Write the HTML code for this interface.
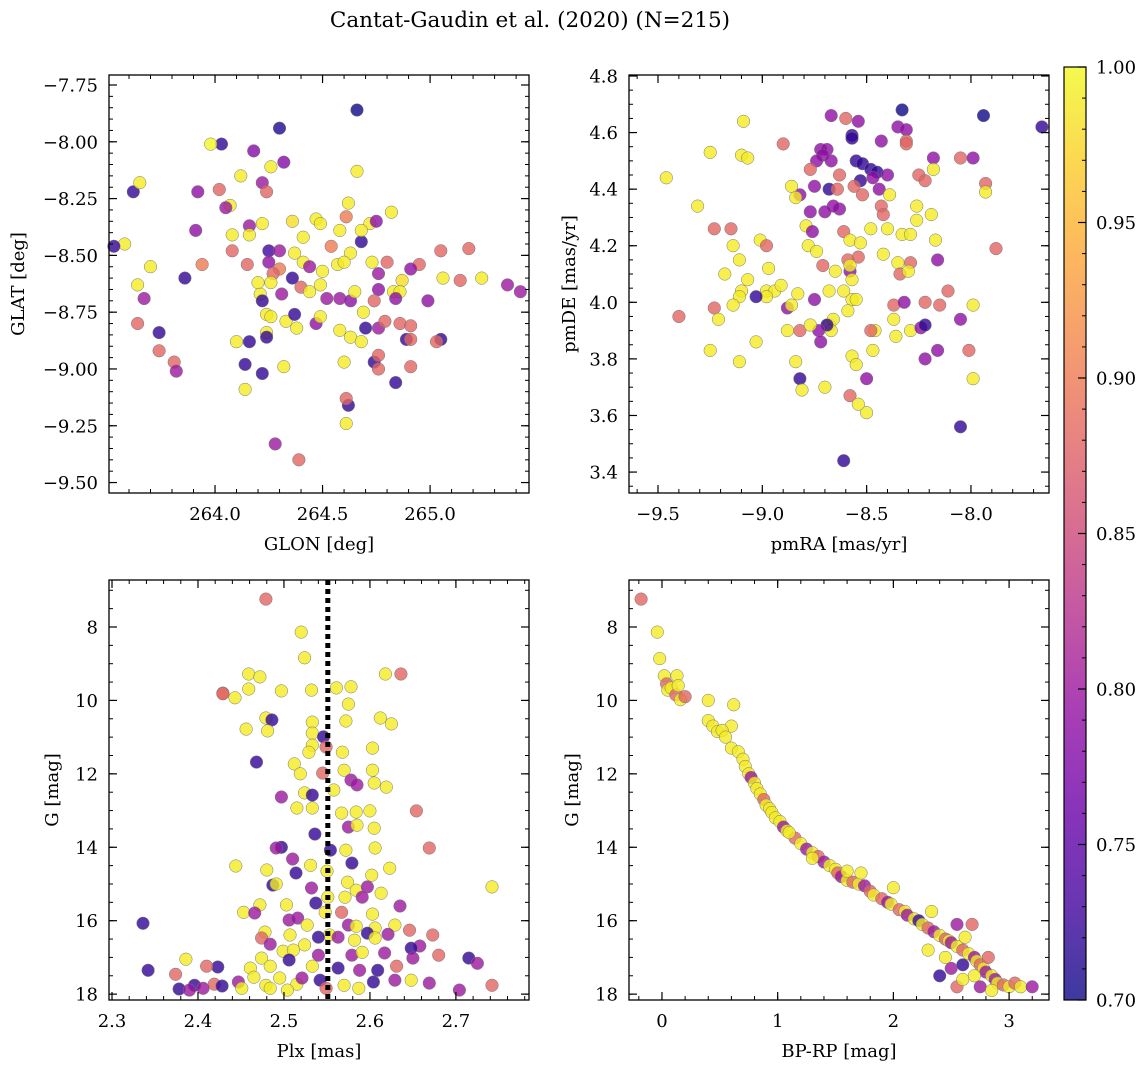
<!DOCTYPE html>
<html><head><meta charset="utf-8"><style>
body{margin:0;background:#fff}
svg{display:block;font-family:"DejaVu Serif","Liberation Serif",serif}
</style></head><body>
<svg id="fig" width="1148" height="1067" viewBox="0 0 1148 1067" xmlns="http://www.w3.org/2000/svg">
<text x="530" y="27" font-size="21.5" text-anchor="middle">Cantat-Gaudin et al. (2020) (N=215)</text>
</svg>
<script>
// ---------- DATA ----------
const glon=[264.66,264.30,264.03,263.98,264.18,264.02,264.32,264.26,264.66,263.62,263.65,263.92,264.12,264.22,264.24,264.07,264.05,264.62,264.61,264.82,264.72,264.75,264.36,264.22,264.16,264.16,264.08,263.91,264.47,264.49,264.41,264.58,264.68,264.54,264.68,263.70,263.94,263.58,263.53,264.08,264.25,264.30,264.37,264.25,264.15,264.41,264.44,264.50,264.57,264.63,264.60,264.73,264.80,264.76,265.05,264.95,264.91,264.87,265.06,265.14,264.76,264.83,264.86,263.86,264.30,264.36,264.27,264.26,264.21,264.20,264.31,264.22,264.40,264.44,264.49,264.52,264.58,264.63,264.65,264.69,264.74,264.84,264.99,263.67,263.64,264.24,264.26,264.33,264.37,264.38,264.47,264.49,264.58,264.63,264.68,264.70,264.76,264.79,264.86,264.91,264.24,264.24,264.16,264.10,263.74,263.74,263.64,263.81,263.82,264.14,264.32,264.60,264.74,264.76,264.76,264.91,264.84,264.89,264.91,265.05,265.03,264.22,264.14,264.62,264.61,264.61,264.28,264.39,265.36,265.42,265.18,265.24];
const glat=[-7.86,-7.94,-8.01,-8.01,-8.04,-8.21,-8.09,-8.11,-8.13,-8.22,-8.18,-8.22,-8.15,-8.18,-8.22,-8.28,-8.29,-8.27,-8.33,-8.31,-8.36,-8.35,-8.35,-8.36,-8.37,-8.41,-8.41,-8.39,-8.34,-8.36,-8.42,-8.39,-8.44,-8.46,-8.39,-8.55,-8.54,-8.45,-8.46,-8.48,-8.48,-8.48,-8.49,-8.53,-8.54,-8.53,-8.55,-8.57,-8.54,-8.49,-8.53,-8.53,-8.53,-8.58,-8.48,-8.54,-8.56,-8.61,-8.60,-8.61,-8.65,-8.66,-8.66,-8.60,-8.56,-8.60,-8.58,-8.62,-8.67,-8.62,-8.67,-8.70,-8.64,-8.66,-8.63,-8.69,-8.69,-8.70,-8.66,-8.75,-8.70,-8.69,-8.70,-8.69,-8.63,-8.76,-8.77,-8.79,-8.76,-8.82,-8.80,-8.77,-8.83,-8.86,-8.88,-8.82,-8.82,-8.79,-8.80,-8.81,-8.84,-8.86,-8.88,-8.88,-8.84,-8.92,-8.80,-8.97,-9.01,-8.98,-8.99,-8.97,-8.97,-8.94,-9.00,-8.99,-9.06,-8.87,-8.87,-8.87,-8.88,-9.02,-9.09,-9.16,-9.13,-9.24,-9.33,-9.40,-8.63,-8.66,-8.47,-8.60];
const prob1=[.70,.71,.72,1,.78,.88,.78,.99,.99,.72,.99,.79,.99,.8,.88,.99,.8,.99,.9,.99,.99,.79,.98,.99,.8,.99,.99,.79,.99,.99,.99,.99,.72,.9,.99,.99,.9,.99,.72,.88,.73,.8,.99,.79,.88,.99,.8,.99,.99,.99,.99,.99,.88,.8,.88,.88,.79,.98,.99,.88,.79,.99,.99,.72,.9,.72,.88,.99,.99,.99,.8,.72,.88,.99,.99,.8,.8,.79,.99,.99,.88,.79,.79,.8,.99,.99,.99,.99,.72,.99,.79,.99,.99,.99,.99,.72,.8,.88,.88,.88,.99,.72,.72,.99,.72,.88,.88,.88,.8,.72,.99,.99,.72,.88,.88,.88,.72,.72,.88,.72,.88,.72,.99,.72,.88,.99,.8,.88,.8,.8,.88,.99];

const pmra=[-7.94,-7.66,-8.33,-8.67,-8.60,-8.54,-9.09,-8.35,-8.31,-8.43,-8.57,-8.57,-8.31,-8.90,-8.72,-8.69,-8.31,-9.25,-9.10,-9.07,-7.99,-8.05,-8.18,-7.93,-7.93,-8.71,-8.74,-8.67,-8.55,-8.52,-8.48,-8.45,-8.53,-8.47,-8.40,-8.63,-8.77,-8.75,-8.68,-8.64,-8.56,-8.44,-8.25,-8.22,-8.18,-8.39,-8.52,-8.43,-8.42,-8.63,-8.66,-8.70,-8.77,-8.82,-8.86,-8.84,-8.79,-8.78,-8.76,-8.61,-8.58,-8.53,-8.48,-8.40,-8.33,-8.29,-8.26,-8.26,-8.19,-8.17,-8.16,-8.35,-8.29,-8.34,-8.30,-8.42,-8.54,-8.59,-8.58,-8.57,-8.57,-8.59,-8.55,-8.58,-8.61,-8.71,-8.65,-8.74,-8.68,-8.75,-8.68,-8.66,-8.67,-8.69,-8.82,-8.73,-8.72,-8.88,-8.83,-8.77,-8.98,-8.94,-8.97,-9.01,-8.98,-9.14,-9.15,-9.11,-9.10,-9.07,-9.11,-8.98,-8.91,-9.03,-8.88,-8.86,-9.23,-9.21,-9.14,-9.40,-9.31,-9.46,-9.23,-8.84,-8.82,-8.81,-8.70,-8.57,-8.55,-8.58,-8.50,-8.50,-8.54,-8.46,-8.47,-8.36,-8.37,-8.29,-8.24,-8.37,-8.32,-8.22,-8.15,-8.11,-8.05,-7.99,-8.22,-8.48,-8.16,-8.01,-7.99,-8.61,-8.05,-7.88,-9.25,-9.11,-9.03,-9.18,-8.22];
const pmde=[4.66,4.62,4.68,4.66,4.65,4.64,4.64,4.62,4.61,4.57,4.59,4.58,4.57,4.56,4.54,4.54,4.56,4.53,4.52,4.51,4.51,4.51,4.51,4.42,4.39,4.52,4.50,4.50,4.50,4.49,4.47,4.46,4.43,4.44,4.45,4.45,4.47,4.41,4.40,4.40,4.41,4.40,4.45,4.43,4.47,4.38,4.38,4.34,4.31,4.33,4.34,4.32,4.32,4.38,4.41,4.37,4.27,4.20,4.25,4.25,4.22,4.21,4.26,4.26,4.24,4.24,4.29,4.34,4.31,4.22,4.15,4.14,4.14,4.10,4.11,4.17,4.16,4.15,4.11,4.08,4.01,3.97,4.01,4.13,4.04,4.13,4.11,4.18,4.04,4.01,3.92,3.94,3.90,3.92,3.90,3.90,3.86,3.90,4.03,3.92,4.04,4.04,4.12,4.22,4.20,4.20,4.26,4.15,4.04,4.08,4.02,4.02,4.06,4.02,3.98,3.99,3.98,3.94,3.99,3.95,4.34,4.44,4.26,3.79,3.73,3.69,3.70,3.81,3.78,3.67,3.73,3.61,3.64,3.90,3.83,3.88,3.94,3.90,3.91,3.99,4.00,4.00,3.99,4.04,3.94,3.99,3.80,3.90,3.83,3.83,3.73,3.44,3.56,4.19,3.83,3.79,3.86,4.10,3.92];
const prob2=[.70,.72,.70,.79,.88,.79,.99,.79,.79,.79,.72,.72,.88,.88,.79,.79,.88,.99,.99,.99,.79,.88,.79,.88,.99,.79,.79,.79,.72,.72,.72,.72,.72,.79,.79,.88,.88,.79,.72,.88,.88,.79,.88,.88,.99,.99,.88,.88,.88,.79,.79,.79,.79,.79,.99,.99,.99,.99,.79,.88,.99,.99,.99,.99,.99,.99,.99,.99,.99,.99,.79,.99,.88,.88,.99,.99,.88,.88,.79,.99,.99,.99,.99,.99,.99,.88,.99,.99,.99,.79,.99,.99,.99,.72,.88,.79,.79,.99,.99,.99,.99,.99,.99,.99,.88,.99,.88,.99,.99,.99,.99,.99,.99,.72,.79,.99,.88,.99,.99,.88,.99,.99,.88,.99,.72,.99,.99,.99,.99,.88,.79,.99,.99,.99,.99,.99,.99,.99,.79,.88,.79,.88,.88,.88,.79,.99,.79,.88,.79,.88,.99,.72,.72,.88,.99,.99,.99,.99,.72];

const plx=[2.479,2.520,2.524,2.459,2.472,2.459,2.429,2.497,2.443,2.561,2.578,2.575,2.618,2.636,2.532,2.479,2.486,2.456,2.481,2.533,2.533,2.546,2.572,2.612,2.625,2.549,2.533,2.529,2.568,2.603,2.468,2.512,2.519,2.570,2.603,2.545,2.578,2.585,2.605,2.619,2.524,2.497,2.533,2.558,2.567,2.584,2.600,2.654,2.515,2.533,2.575,2.585,2.605,2.536,2.497,2.491,2.554,2.572,2.606,2.669,2.510,2.514,2.531,2.550,2.579,2.444,2.480,2.602,2.623,2.487,2.491,2.532,2.574,2.584,2.597,2.742,2.472,2.503,2.537,2.551,2.571,2.591,2.613,2.548,2.567,2.603,2.635,2.453,2.466,2.506,2.516,2.527,2.575,2.584,2.606,2.597,2.629,2.336,2.478,2.474,2.507,2.524,2.484,2.553,2.540,2.563,2.582,2.606,2.621,2.646,2.673,2.658,2.648,2.499,2.511,2.540,2.579,2.591,2.617,2.650,2.680,2.715,2.725,2.386,2.474,2.506,2.423,2.461,2.484,2.533,2.563,2.588,2.609,2.631,2.410,2.342,2.374,2.396,2.419,2.428,2.447,2.465,2.479,2.495,2.515,2.521,2.542,2.570,2.604,2.629,2.648,2.669,2.704,2.742,2.378,2.390,2.406,2.451,2.484,2.504,2.549,2.587,2.429];
const gmag1=[7.24,8.14,8.84,9.28,9.36,9.69,9.80,9.74,9.93,9.66,9.63,10.10,9.28,9.28,9.72,10.48,10.53,10.78,10.83,10.59,10.89,10.99,10.56,10.48,10.64,11.27,11.22,11.41,11.41,11.30,11.68,11.73,12.00,11.90,11.90,11.98,12.17,12.30,12.25,12.36,12.52,12.63,12.58,12.44,13.07,13.04,13.01,13.01,12.93,12.93,13.45,13.40,13.48,13.64,14.00,14.02,14.08,14.08,14.02,14.02,14.32,14.70,14.49,14.65,14.43,14.51,14.62,14.76,14.57,15.03,15.00,15.11,14.95,15.17,15.08,15.08,15.57,15.57,15.52,15.36,15.36,15.36,15.25,15.77,15.77,15.82,15.60,15.77,15.79,15.98,15.93,16.12,16.12,16.15,16.20,16.34,16.12,16.07,16.31,16.47,16.39,16.66,16.64,16.39,16.45,16.45,16.53,16.47,16.37,16.26,16.39,16.69,16.75,16.83,16.80,16.94,16.94,16.86,16.88,17.02,16.94,17.02,17.16,17.05,17.02,17.07,17.26,17.29,17.24,17.24,17.29,17.35,17.35,17.24,17.24,17.35,17.46,17.76,17.73,17.78,17.67,17.54,17.76,17.56,17.73,17.56,17.62,17.76,17.67,17.62,17.62,17.70,17.89,17.76,17.86,17.89,17.84,17.84,17.84,17.89,17.84,17.84,9.82];
const prob3=[.88,.99,.99,.99,.99,.99,.9,.99,.99,.99,.99,.99,.99,.88,.99,.99,.72,.99,.99,.99,.99,.72,.99,.99,.99,.88,.99,.99,.99,.99,.72,.99,.99,.99,.99,.88,.8,.8,.99,.99,.99,.8,.72,.99,.99,.99,.99,.88,.99,.99,.8,.99,.99,.72,.72,.8,.72,.99,.99,.88,.8,.72,.99,.99,.72,.99,.99,.99,.99,.72,.99,.8,.99,.99,.8,.99,.99,.99,.72,.99,.99,.8,.99,.99,.88,.99,.8,.99,.8,.8,.8,.99,.8,.99,.99,.72,.99,.72,.99,.88,.99,.99,.8,.99,.72,.8,.99,.99,.8,.88,.88,.8,.72,.99,.99,.8,.8,.99,.8,.8,.88,.72,.8,.99,.99,.72,.72,.99,.99,.99,.72,.8,.72,.88,.88,.72,.88,.72,.88,.72,.8,.99,.99,.99,.99,.8,.72,.99,.72,.8,.99,.8,.8,.88,.72,.8,.8,.99,.99,.99,.88,.99,.88];

const bprp=[-0.18,-0.04,-0.02,0.02,0.04,0.05,0.08,0.12,0.13,0.14,0.16,0.4,0.62,0.6,0.4,0.44,0.48,0.52,0.55,0.6,0.66,0.7,0.72,0.75,0.77,0.8,0.82,0.85,0.88,0.9,0.93,0.95,0.98,1.02,1.05,1.08,1.15,1.2,1.25,1.3,1.35,1.4,1.45,1.5,1.52,1.55,1.6,1.65,1.7,1.72,1.75,1.8,1.83,1.9,1.95,2.0,1.98,2.05,2.1,2.12,2.18,2.22,2.25,2.3,2.33,2.35,2.4,2.45,2.48,2.5,2.55,2.55,2.6,2.62,2.65,2.68,2.7,2.72,2.75,2.78,2.8,2.82,2.85,2.88,2.9,2.95,3.0,3.05,3.1,3.2,2.4,2.5,2.55,2.6,2.7,2.75,2.85,2.45,2.6,2.3,1.6,1.3,1.1,0.2];
const gmag2=[7.24,8.14,8.86,9.33,9.55,9.72,9.66,9.85,9.33,9.6,9.98,10.0,10.12,10.7,10.55,10.7,10.85,10.82,11.0,11.3,11.4,11.6,11.8,12.0,12.1,12.25,12.4,12.55,12.7,12.85,12.95,13.05,13.2,13.3,13.45,13.55,13.75,13.9,14.05,14.15,14.25,14.4,14.5,14.6,14.7,14.8,14.9,14.95,15.0,14.7,15.05,15.2,15.3,15.4,15.5,15.1,15.55,15.7,15.75,15.85,15.95,16.0,16.1,16.2,15.75,16.3,16.4,16.5,16.55,16.6,16.7,16.1,16.8,16.45,16.9,16.1,17.0,17.1,17.2,17.3,17.4,17.0,17.5,17.6,17.7,17.75,17.8,17.7,17.8,17.8,17.5,17.3,17.8,17.6,17.5,17.8,17.9,17.0,17.2,16.8,14.65,14.3,13.6,9.9];
const prob4=[.88,.99,.99,.99,.88,.99,.99,.88,.99,.99,.99,.99,.99,.99,.99,.99,.99,.99,.99,.99,.99,.99,.99,.99,.8,.99,.99,.99,.88,.99,.99,.99,.99,.99,.8,.99,.88,.99,.8,.99,.88,.8,.99,.99,.88,.8,.99,.88,.99,.99,.8,.88,.99,.88,.8,.99,.99,.88,.99,.8,.99,.72,.99,.88,.99,.8,.99,.88,.99,.8,.99,.8,.88,.99,.99,.88,.8,.99,.88,.99,.8,.88,.99,.8,.99,.88,.99,.88,.99,.8,.72,.8,.88,.99,.99,.8,.99,.99,.72,.99,.99,.99,.99,.88];

const cbTicks=[0.70,0.75,0.80,0.85,0.90,0.95,1.00];
const plxMean=[2.551];

// ---------- helpers ----------
const NS="http://www.w3.org/2000/svg";
const svg=document.getElementById('fig');
function mk(tag,attrs,parent){const e=document.createElementNS(NS,tag);for(const k in attrs)e.setAttribute(k,attrs[k]);(parent||svg).appendChild(e);return e;}
const stops=[[0,13,8,135],[.1,65,4,157],[.2,106,0,168],[.3,143,13,164],[.4,177,42,144],[.5,204,71,120],[.6,225,100,98],[.7,242,132,75],[.8,252,166,54],[.9,252,206,37],[1,240,249,33]];
function plasma(t){t=Math.max(0,Math.min(1,t));for(let i=1;i<stops.length;i++){if(t<=stops[i][0]){const a=stops[i-1],b=stops[i],f=(t-a[0])/(b[0]-a[0]);return `rgb(${Math.round(a[1]+f*(b[1]-a[1]))},${Math.round(a[2]+f*(b[2]-a[2]))},${Math.round(a[3]+f*(b[3]-a[3]))})`;}}return 'rgb(240,249,33)';}
const pcol=p=>plasma((p-0.7)/0.3);
const FS=18;

function panel(o){
  const {x0,y0,w,h,xmin,xmax,ymin,ymax,yinv,name}=o;
  const g=mk('g',{});
  
  
  const sx=v=>x0+(v-xmin)/(xmax-xmin)*w;
  const sy=v=>yinv? y0+(v-ymin)/(ymax-ymin)*h : y0+h-(v-ymin)/(ymax-ymin)*h;
  const pg=mk('g',{},g);
  for(let i=0;i<o.xs.length;i++){
    const c=mk('circle',{cx:sx(o.xs[i]).toFixed(1),cy:sy(o.ys[i]).toFixed(1),r:6.3,fill:pcol(o.ps[i]),'fill-opacity':0.8,stroke:'#777','stroke-width':0.5},pg);
    
    
  }
  if(o.vline){for(const v of o.vline){const l=mk('line',{x1:sx(v),x2:sx(v),y1:y0,y2:y0+h,stroke:'#000','stroke-width':5,'stroke-dasharray':'5,4'},g);
    
    }}
  mk('rect',{x:x0,y:y0,width:w,height:h,fill:'none',stroke:'#000','stroke-width':1.3},g);
  const eps=1e-9;
  function ticks(min,max,step){const out=[];let s=Math.ceil((min-eps)/step);for(let v=s*step;v<=max+eps;v=(++s)*step)out.push(Math.round(v*1e6)/1e6);return out;}
  for(const v of ticks(xmin,xmax,o.xminor)){const X=sx(v);mk('line',{x1:X,x2:X,y1:y0+h,y2:y0+h-4,stroke:'#000'},g);mk('line',{x1:X,x2:X,y1:y0,y2:y0+4,stroke:'#000'},g);}
  for(const v of ticks(ymin,ymax,o.yminor)){const Y=sy(v);mk('line',{x1:x0,x2:x0+4,y1:Y,y2:Y,stroke:'#000'},g);mk('line',{x1:x0+w,x2:x0+w-4,y1:Y,y2:Y,stroke:'#000'},g);}
  for(const v of ticks(xmin,xmax,o.xmajor)){const X=sx(v);mk('line',{x1:X,x2:X,y1:y0+h,y2:y0+h-8,stroke:'#000','stroke-width':1.2},g);mk('line',{x1:X,x2:X,y1:y0,y2:y0+8,stroke:'#000','stroke-width':1.2},g);
    const t=mk('text',{x:X,y:y0+h+27,'font-size':FS,'text-anchor':'middle'},g);t.textContent=o.xfmt(v);
    
    }
  for(const v of ticks(ymin,ymax,o.ymajor)){const Y=sy(v);mk('line',{x1:x0,x2:x0+8,y1:Y,y2:Y,stroke:'#000','stroke-width':1.2},g);mk('line',{x1:x0+w,x2:x0+w-8,y1:Y,y2:Y,stroke:'#000','stroke-width':1.2},g);
    const t=mk('text',{x:x0-11,y:Y+6.5,'font-size':FS,'text-anchor':'end'},g);t.textContent=o.yfmt(v);
    
    }
  const xl=mk('text',{x:x0+w/2,y:y0+h+57,'font-size':FS,'text-anchor':'middle'},g);xl.textContent=o.xlabel;
  
  
  const yx=o.ylx, yc=y0+h/2;
  const yl=mk('text',{x:yx,y:yc,'font-size':FS,'text-anchor':'middle',transform:`rotate(-90 ${yx} ${yc})`},g);yl.textContent=o.ylabel;
  
  
}
const neg=s=>s.replace('-','\u2212');
panel({name:'glon-glat-panel',x0:109,y0:75,w:420,h:418,xmin:263.507,xmax:265.46,ymin:-9.546,ymax:-7.706,xs:glon,ys:glat,ps:prob1,xmajor:0.5,xminor:0.1,ymajor:0.25,yminor:0.05,xfmt:v=>v.toFixed(1),yfmt:v=>neg(v.toFixed(2)),xlabel:'GLON [deg]',ylabel:'GLAT [deg]',ylx:24});
panel({name:'proper-motion-panel',x0:629,y0:75,w:420,h:418,xmin:-9.639,xmax:-7.626,ymin:3.326,ymax:4.8035,xs:pmra,ys:pmde,ps:prob2,xmajor:0.5,xminor:0.1,ymajor:0.2,yminor:0.05,xfmt:v=>neg(v.toFixed(1)),yfmt:v=>v.toFixed(1),xlabel:'pmRA [mas/yr]',ylabel:'pmDE [mas/yr]',ylx:575});
panel({name:'parallax-magnitude-panel',x0:109,y0:580,w:420,h:420,xmin:2.2965,xmax:2.785,ymin:6.72,ymax:18.16,yinv:true,xs:plx,ys:gmag1,ps:prob3,xmajor:0.1,xminor:0.02,ymajor:2,yminor:0.5,xfmt:v=>v.toFixed(1),yfmt:v=>String(v),xlabel:'Plx [mas]',ylabel:'G [mag]',ylx:58,vline:plxMean});
panel({name:'color-magnitude-panel',x0:629,y0:580,w:420,h:420,xmin:-0.285,xmax:3.345,ymin:6.72,ymax:18.16,yinv:true,xs:bprp,ys:gmag2,ps:prob4,xmajor:1,xminor:0.2,ymajor:2,yminor:0.5,xfmt:v=>String(v),yfmt:v=>String(v),xlabel:'BP-RP [mag]',ylabel:'G [mag]',ylx:578});

// colorbar
const cb=mk('g',{});


const defs=mk('defs',{},cb);
const lg=mk('linearGradient',{id:'cbg',x1:0,y1:1,x2:0,y2:0},defs);
for(let i=0;i<=20;i++){mk('stop',{offset:i/20,'stop-color':plasma(i/20),'stop-opacity':0.8},lg);}
const cx0=1064,cy0=67,cw=22,ch=933;
mk('rect',{x:cx0,y:cy0,width:cw,height:ch,fill:'url(#cbg)',stroke:'#000','stroke-width':1.2},cb);
const cby=v=>cy0+ch-(v-0.7)/0.3*ch;
for(let k=70;k<=100;k++){const Y=cby(k/100);mk('line',{x1:cx0+cw,x2:cx0+cw-4,y1:Y,y2:Y,stroke:'#000'},cb);}
for(const v of cbTicks){const Y=cby(v);mk('line',{x1:cx0+cw,x2:cx0+cw-8,y1:Y,y2:Y,stroke:'#000','stroke-width':1.2},cb);
  const t=mk('text',{x:cx0+cw+10,y:Y+6.5,'font-size':FS},cb);t.textContent=v.toFixed(2);
  
  }
</script>
</body></html>
